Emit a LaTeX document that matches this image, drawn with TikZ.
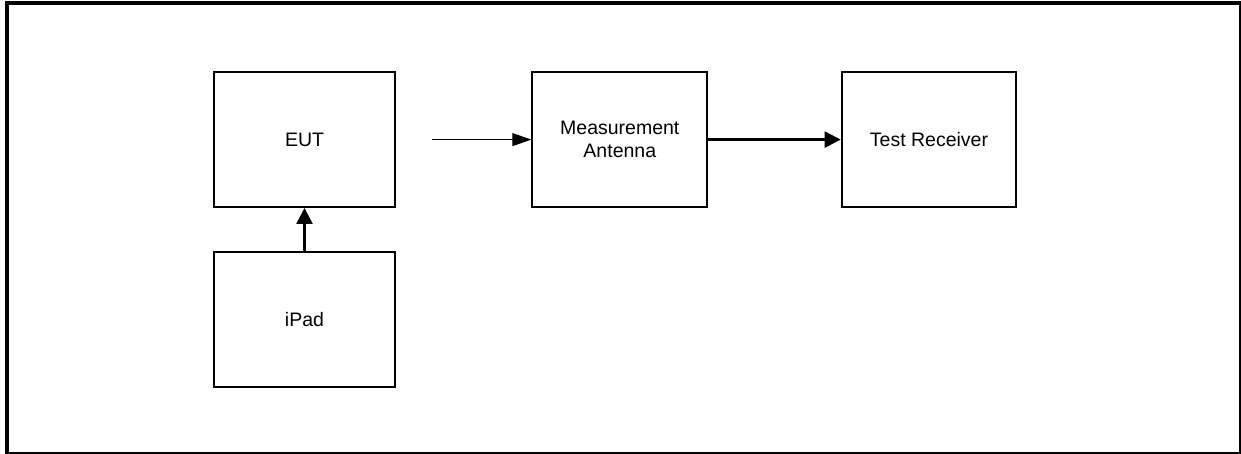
\documentclass[tikz,border=0pt]{standalone}
\usepackage{fontspec}
\setmainfont{Liberation Sans}
\usetikzlibrary{arrows.meta}

\tikzset{
  boxnode/.style={draw, line width=2pt, minimum height=134.7pt, align=center,
    font=\fontsize{19.5}{23.3}\selectfont, inner sep=0pt},
  thinarrow/.style={line width=1pt, -{Triangle[length=19pt, width=13pt]}},
  thickarrow/.style={line width=2.3pt, -{Triangle[length=16pt, width=16pt]}}
}

\begin{document}
\begin{tikzpicture}[x=1pt, y=-1pt]
\useasboundingbox (0,0) rectangle (1241,454);
% Marco exterior
\draw[line width=4pt] (7,454) -- (7,3) -- (1240.2,3);
\draw[line width=1.8pt] (1240.2,1) -- (1240.2,452.7) -- (5,452.7);
% Bloques
\node[boxnode, minimum width=181pt] (eut) at (304.5,139.6) {EUT};
\node[boxnode, minimum width=181pt] (ipad) at (304.5,319.6) {iPad};
\node[boxnode, minimum width=175pt] (antenna) at (619.8,139.6) {Measurement\\Antenna};
\node[boxnode, minimum width=174.6pt] (receiver) at (929,139.6) {Test Receiver};
% Conexiones
\coordinate (emission) at (432,139.6);
\draw[thinarrow] (emission) -- (antenna.west);
\draw[thickarrow] (antenna.east) -- (receiver.west);
\draw[thickarrow] (ipad.north) -- (eut.south);
\end{tikzpicture}
\end{document}
